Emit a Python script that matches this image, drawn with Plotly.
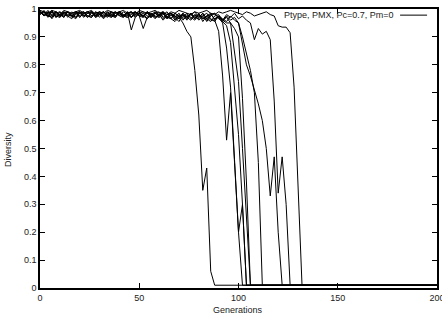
import plotly.graph_objects as go

# Diversity per run, sampled every 2 generations from generation 0 until the run collapses.
run_a = [0.99,0.975,0.99,0.965,0.985,0.99,0.97,0.99,0.975,0.965,
         0.985,0.99,0.975,0.97,0.99,0.98,0.965,0.98,0.99,0.975,
         0.985,0.97,0.99,0.925,0.97,0.985,0.975,0.965,0.985,0.97,
         0.98,0.96,0.975,0.965,0.955,0.97,
         0.95,0.92,0.90,0.78,0.62,0.35,0.43,0.06,0.01]
run_b = [0.98,0.995,0.975,0.99,0.97,0.98,0.99,0.975,0.965,0.985,
         0.99,0.975,0.985,0.99,0.97,0.98,0.99,0.975,0.98,0.97,
         0.99,0.98,0.97,0.98,0.99,0.975,0.93,0.97,0.985,0.975,
         0.97,0.985,0.965,0.98,0.96,0.975,0.98,0.965,0.985,0.97,
         0.98,0.965,0.975,0.96,
         0.96,0.92,0.76,0.53,0.70,0.45,0.20,0.01]
run_c = [0.995,0.975,0.99,0.98,0.99,0.97,0.985,0.99,0.975,0.99,
         0.97,0.985,0.99,0.975,0.985,0.99,0.97,0.985,0.975,0.99,
         0.975,0.99,0.98,0.97,0.99,0.975,0.985,0.965,0.98,0.99,
         0.98,0.965,0.98,0.985,0.97,0.955,0.98,0.97,0.985,0.965,
         0.98,0.97,0.96,0.98,0.965,0.97,
         0.95,0.86,0.72,0.46,0.20,0.30,0.01]
run_d = [0.985,0.99,0.97,0.99,0.98,0.975,0.99,0.97,0.985,0.99,
         0.975,0.99,0.97,0.985,0.975,0.99,0.98,0.97,0.99,0.975,
         0.985,0.975,0.99,0.97,0.985,0.99,0.975,0.985,0.97,0.99,
         0.975,0.985,0.97,0.965,0.985,0.975,0.96,0.975,0.98,0.965,
         0.985,0.955,0.975,0.98,0.965,0.975,0.955,
         0.94,0.88,0.70,0.55,0.30,0.01]
run_e = [0.99,0.98,0.975,0.995,0.97,0.99,0.98,0.975,0.99,0.97,
         0.985,0.99,0.975,0.97,0.99,0.98,0.975,0.99,0.97,0.985,
         0.99,0.975,0.97,0.985,0.99,0.975,0.97,0.99,0.98,0.965,
         0.98,0.99,0.97,0.985,0.975,0.965,0.985,0.97,0.96,0.98,
         0.97,0.985,0.965,0.955,0.975,0.98,0.96,0.95,
         0.95,0.85,0.74,0.50,0.25,0.01]
run_f = [0.98,0.99,0.98,0.97,0.99,0.975,0.985,0.99,0.97,0.98,
         0.99,0.98,0.97,0.99,0.975,0.985,0.99,0.975,0.97,0.99,
         0.98,0.975,0.99,0.97,0.98,0.985,0.99,0.975,0.97,0.985,
         0.99,0.97,0.98,0.985,0.965,0.98,0.97,0.985,0.965,0.98,
         0.96,0.975,0.985,0.965,0.955,0.975,0.96,0.97,0.95,
         0.93,0.90,0.68,0.38,0.01]
run_g = [0.99,0.975,0.985,0.99,0.975,0.97,0.99,0.98,0.975,0.99,
         0.97,0.985,0.99,0.975,0.985,0.97,0.99,0.975,0.985,0.99,
         0.975,0.97,0.985,0.99,0.975,0.985,0.97,0.99,0.975,0.985,
         0.97,0.98,0.99,0.965,0.985,0.97,0.98,0.96,0.985,0.97,
         0.965,0.98,0.955,0.975,0.985,0.965,0.955,0.975,0.96,0.97,
         0.95,0.90,0.84,0.78,0.70,0.45,0.01]
run_h = [0.985,0.99,0.975,0.97,0.99,0.98,0.975,0.99,0.98,0.97,
         0.99,0.975,0.985,0.99,0.97,0.98,0.99,0.98,0.975,0.97,
         0.99,0.98,0.975,0.99,0.97,0.985,0.975,0.99,0.98,0.97,
         0.98,0.985,0.965,0.98,0.97,0.985,0.965,0.98,0.97,0.96,
         0.98,0.965,0.975,0.985,0.96,0.975,0.965,0.955,0.975,0.96,
         0.95,0.88,0.80,0.76,0.71,0.66,0.60,0.50,0.33,0.47,0.20,0.01]
run_i = [0.99,0.98,0.995,0.975,0.99,0.98,0.97,0.99,0.975,0.985,
         0.99,0.97,0.985,0.99,0.975,0.985,0.97,0.99,0.98,0.975,
         0.99,0.975,0.985,0.97,0.99,0.98,0.975,0.99,0.97,0.985,
         0.975,0.99,0.97,0.985,0.975,0.965,0.985,0.97,0.98,0.99,
         0.97,0.985,0.965,0.98,0.985,0.97,0.96,0.98,0.97,0.985,
         0.965,0.975,0.96,
         0.95,0.89,0.93,0.91,0.92,0.89,0.67,0.34,0.47,0.30,0.01]
run_j = [0.995,0.99,0.985,0.995,0.99,0.98,0.995,0.99,0.985,0.99,
         0.995,0.985,0.99,0.995,0.98,0.99,0.985,0.995,0.99,0.985,
         0.99,0.995,0.985,0.99,0.98,0.995,0.99,0.985,0.99,0.995,
         0.985,0.99,0.98,0.99,0.985,0.995,0.99,0.985,0.98,0.99,
         0.985,0.99,0.995,0.985,0.98,0.99,0.985,0.99,0.995,0.99,
         0.985,0.98,0.99,0.985,0.975,0.98,0.985,0.99,0.98,0.975,
         0.94,0.935,0.935,0.915,0.72,0.33,0.01]

runs = [run_a, run_b, run_c, run_d, run_e, run_f, run_g, run_h, run_i, run_j]
gen_step = 2
last_generation = 200
floor_value = 0.01   # diversity after collapse, flat to the end

legend_label = "Ptype, PMX, Pc=0.7, Pm=0"
x_title = "Generations"
y_title = "Diversity"
x_ticks = [0, 50, 100, 150, 200]
y_ticks = [0, 0.1, 0.2, 0.3, 0.4, 0.5, 0.6, 0.7, 0.8, 0.9, 1]
y_tick_text = ["0", "0.1", "0.2", "0.3", "0.4", "0.5", "0.6", "0.7", "0.8", "0.9", "1"]

fig = go.Figure()
for r in runs:
    xs = [i * gen_step for i in range(len(r))] + [last_generation]
    ys = list(r) + [floor_value]
    fig.add_trace(go.Scatter(x=xs, y=ys, mode="lines",
                             line=dict(color="black", width=1),
                             showlegend=False, hoverinfo="skip"))

font = dict(family="Liberation Sans, Arial, sans-serif", size=9, color="#222")

fig.update_layout(
    width=442, height=320,
    margin=dict(l=40, r=5, t=9, b=32),
    paper_bgcolor="white", plot_bgcolor="white",
    font=font,
    showlegend=False,
    xaxis=dict(range=[0, 200], tickvals=x_ticks, ticks="inside", ticklen=5,
               tickcolor="black", showline=True, linecolor="black", linewidth=1.5,
               mirror="allticks", showgrid=False, zeroline=False, automargin=False,
               ticklabeloverflow="allow"),
    yaxis=dict(range=[0, 1], tickvals=y_ticks, ticktext=y_tick_text,
               ticks="inside", ticklen=5,
               tickcolor="black", showline=True, linecolor="black", linewidth=1.5,
               mirror="allticks", showgrid=False, zeroline=False, automargin=False),
    annotations=[
        dict(text=legend_label, xref="paper", yref="paper",
             x=0.897, y=0.978, xanchor="right", yanchor="middle",
             showarrow=False, font=font),
        dict(text=x_title, xref="paper", yref="paper",
             x=0.499, y=-0.079, xanchor="center", yanchor="middle",
             showarrow=False, font=font),
        dict(text=y_title, xref="paper", yref="paper",
             x=-0.081, y=0.498, xanchor="center", yanchor="middle",
             textangle=-90, showarrow=False, font=font),
    ],
    shapes=[dict(type="line", xref="paper", yref="paper",
                 x0=0.907, x1=0.975, y0=0.978, y1=0.978,
                 line=dict(color="black", width=1))],
)

fig.write_html("out.html",
               config={"displayModeBar": False},
               post_script="document.body.style.margin='0';document.body.style.overflow='hidden';")
